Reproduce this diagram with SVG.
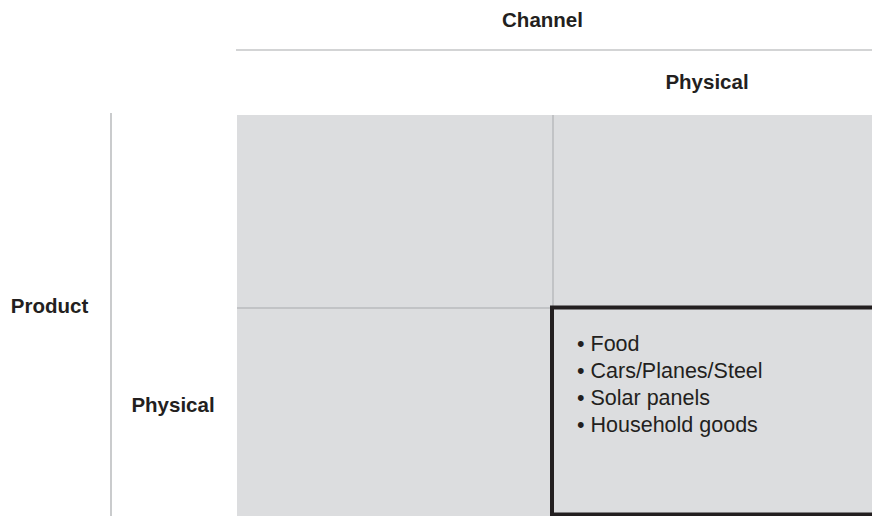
<svg xmlns="http://www.w3.org/2000/svg" width="872" height="516" viewBox="0 0 872 516">
<style>
.h{font-family:"Liberation Sans",Arial,sans-serif;font-weight:bold;font-size:20.5px;fill:#231f20;text-anchor:middle}
.t{font-family:"Liberation Sans",Arial,sans-serif;font-size:21.5px;fill:#231f20}
.rule{stroke:#a7a9ac;stroke-width:1.2;fill:none}
.div{stroke:#a7a9ac;stroke-width:1;fill:none}
</style>
<rect x="0" y="0" width="872" height="516" fill="#ffffff"/>
<g id="headers">
<text class="h" x="542.5" y="26.5">Channel</text>
<text class="h" x="707" y="89">Physical</text>
<text class="h" x="49.5" y="312.5">Product</text>
<text class="h" x="173" y="411.5">Physical</text>
</g>
<g id="connectors">
<line class="rule" x1="236" y1="50" x2="872" y2="50"/>
<line class="rule" x1="111" y1="113" x2="111" y2="516"/>
</g>
<g id="grid">
<rect x="237" y="115" width="635" height="401" fill="#dcdddf"/>
<line class="div" x1="553" y1="115" x2="553" y2="307"/>
<line class="div" x1="237" y1="308" x2="552" y2="308"/>
</g>
<g id="cell-physical-physical">
<rect x="552" y="307.5" width="330" height="207" fill="#dcdddf" stroke="#231f20" stroke-width="4"/>
<text class="t" x="577" y="351">• Food</text>
<text class="t" x="577" y="378">• Cars/Planes/Steel</text>
<text class="t" x="577" y="405">• Solar panels</text>
<text class="t" x="577" y="432">• Household goods</text>
</g>
</svg>
